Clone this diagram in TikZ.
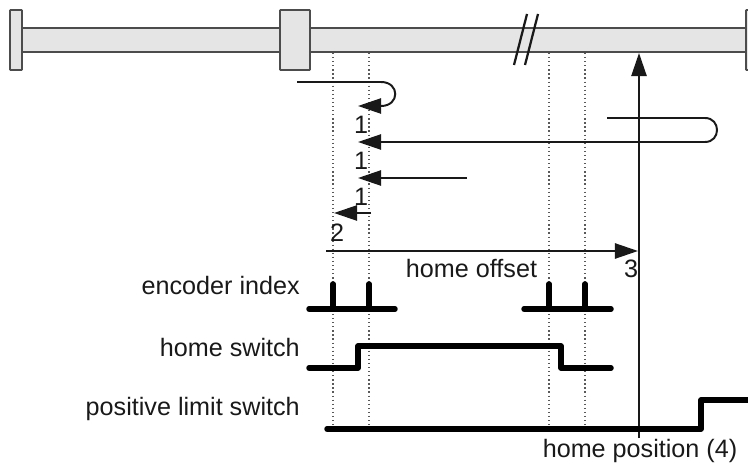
\documentclass[tikz,border=0pt]{standalone}
\usepackage{fontspec}
\setmainfont{Liberation Sans}
\usetikzlibrary{arrows.meta}
\tikzset{
    label text/.style={inner sep=0pt,font=\fontsize{17.9}{20}\selectfont,text=black!90},
    bar part/.style={draw=black!70,fill=black!10,line width=1.3pt},
    guide line/.style={draw=black!65,dotted,line width=0.9pt},
    move line/.style={draw=black!90,line width=1.4pt},
    move arrow/.style={move line,-{Triangle[length=16.4pt,width=10.8pt]}},
    signal line/.style={draw=black,line width=3.9pt,line cap=round,line join=round}
}
\begin{document}
\begin{tikzpicture}[x=0.025cm,y=-0.025cm]
    \useasboundingbox (0,0) rectangle (748,464);
    % bar with end stops and carriage
    \path[bar part] (22,28) rectangle (760,52);
    \path[bar part,rounded corners=0.5pt] (10,10) rectangle (22,70);
    \path[bar part,rounded corners=0.5pt] (280,10) rectangle (310,70);
    \path[bar part,rounded corners=0.5pt] (746,10) rectangle (760,70);
    % break in the bar
    \draw[line width=1.6pt,black!90] (527,14) -- (514,65);
    \draw[line width=1.6pt,black!90] (538,14) -- (525,65);
    % guides
    \draw[guide line] (333,53) -- (333,425);
    \draw[guide line] (369,53) -- (369,425);
    \draw[guide line] (549,53) -- (549,425);
    \draw[guide line] (585,53) -- (585,425);
    % moves
    \coordinate (loopstart) at (297,82);
    \coordinate (loopend) at (358,106);
    \draw[move arrow] (loopstart) -- (381,82) .. controls (400,82) and (400,106) .. (381,106) -- (loopend);
    \coordinate (longstart) at (607,118);
    \coordinate (longend) at (358,142);
    \draw[move arrow] (longstart) -- (705,118) .. controls (721,118) and (721,142) .. (705,142) -- (longend);
    \coordinate (shortstart) at (467,178);
    \coordinate (shortend) at (358,178);
    \draw[move arrow] (shortstart) -- (shortend);
    \coordinate (backstart) at (371,213);
    \coordinate (backend) at (334,213);
    \draw[move arrow] (backstart) -- (backend);
    \coordinate (offsetstart) at (326,251);
    \coordinate (offsetend) at (638,251);
    \draw[move arrow] (offsetstart) -- (offsetend);
    \coordinate (homefoot) at (639,438);
    \coordinate (hometop) at (639,53);
    \draw[move arrow] (homefoot) -- (hometop);
    % signals
    \draw[signal line] (309,309) -- (395,309);
    \draw[signal line] (333,309) -- (333,284);
    \draw[signal line] (369,309) -- (369,284);
    \draw[signal line] (524,309) -- (611,309);
    \draw[signal line] (549,309) -- (549,284);
    \draw[signal line] (585,309) -- (585,284);
    \draw[signal line] (309,368) -- (358,368) -- (358,346) -- (561,346) -- (561,368) -- (611,368);
    \draw[signal line] (327,429) -- (701,429) -- (701,400) -- (750,400);
    % labels
    \node[label text,anchor=base east] (encoderlabel) at (300,295) {encoder index};
    \node[label text,anchor=base east] (switchlabel) at (300,356) {home switch};
    \node[label text,anchor=base east] (limitlabel) at (300,415) {positive limit switch};
    \node[label text,anchor=base] (offsetlabel) at (471.5,278) {home offset};
    \node[label text,anchor=base] (positionlabel) at (640,457) {home position (4)};
    \node[label text,anchor=base] (numa) at (361,134) {1};
    \node[label text,anchor=base] (numb) at (361,170) {1};
    \node[label text,anchor=base] (numc) at (361,206) {1};
    \node[label text,anchor=base] (numd) at (337,242) {2};
    \node[label text,anchor=base] (nume) at (631,278) {3};
\end{tikzpicture}
\end{document}
